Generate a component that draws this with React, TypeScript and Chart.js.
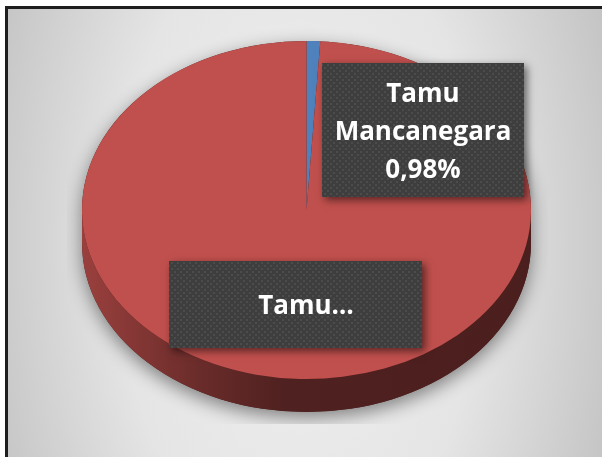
import React, { useEffect, useRef } from "react";
import { Chart, registerables } from "chart.js";

Chart.register(...registerables);

// ---- data ----
const categories = ["Tamu Mancanegara", "Tamu Nusantara"];
const percentages = [0.98, 99.02];
const sliceColors = ["#4f81bd", "#c0504d"];
const truncatedLabel = [false, true];

// ---- layout / style constants ----
const W = 594;
const H = 454;
const RADIUS = 224.5;
const TILT = 0.753;
const DEPTH = 33;
const FONT = "bold 26px 'Open Sans', 'Noto Sans', sans-serif";

const boxes = [
  { x: 314, y: 54, w: 202, h: 134, tx: 415, ty: [93, 131, 169] },
  { x: 161, y: 252, w: 253, h: 87, tx: 298, ty: [305] },
];

function formatPct(v: number) {
  return v.toFixed(2).replace(".", ",") + "%";
}

function labelLines(i: number): string[] {
  if (truncatedLabel[i]) return [categories[i].split(" ")[0] + "…"];
  return [...categories[i].split(" "), formatPct(percentages[i])];
}

function shade(hex: string, f: number) {
  const n = parseInt(hex.slice(1), 16);
  const r = Math.round(((n >> 16) & 255) * f);
  const g = Math.round(((n >> 8) & 255) * f);
  const b = Math.round((n & 255) * f);
  return `rgb(${r},${g},${b})`;
}

let dotPattern: CanvasPattern | null = null;
function getPattern(ctx: CanvasRenderingContext2D) {
  if (dotPattern) return dotPattern;
  const c = document.createElement("canvas");
  c.width = 6;
  c.height = 6;
  const p = c.getContext("2d")!;
  p.fillStyle = "#3e3e3e";
  p.fillRect(0, 0, 6, 6);
  p.fillStyle = "#4c4c4c";
  p.fillRect(1, 1, 2, 2);
  p.fillRect(4, 4, 2, 2);
  dotPattern = ctx.createPattern(c, "repeat");
  return dotPattern;
}

const pie3d = {
  id: "pie3d",
  beforeDraw(chart: any) {
    const ctx: CanvasRenderingContext2D = chart.ctx;
    ctx.save();
    ctx.translate(292, 235);
    ctx.scale(1, 1.8);
    const g = ctx.createRadialGradient(0, 0, 0, 0, 0, 330);
    g.addColorStop(0, "#f0f0f0");
    g.addColorStop(0.55, "#e5e5e5");
    g.addColorStop(1, "#c4c4c4");
    ctx.fillStyle = g;
    ctx.fillRect(-400, -300, 800, 600);
    ctx.restore();
  },
  beforeDatasetsDraw(chart: any) {
    const ctx: CanvasRenderingContext2D = chart.ctx;
    const arcs = chart.getDatasetMeta(0).data;
    if (!arcs.length) return;
    const cx = arcs[0].x;
    const cy = arcs[0].y;
    const r = arcs[0].outerRadius;
    const ry = r * TILT;

    // soft drop shadow
    ctx.save();
    ctx.beginPath();
    ctx.rect(59, 0, 481, 415);
    ctx.clip();
    ctx.shadowColor = "rgba(0,0,0,0.45)";
    ctx.shadowBlur = 18;
    ctx.shadowOffsetY = 6;
    ctx.beginPath();
    ctx.ellipse(cx, cy, r, ry, 0, Math.PI, 0);
    ctx.ellipse(cx, cy + DEPTH, r, ry, 0, 0, Math.PI);
    ctx.closePath();
    ctx.fillStyle = "#4c1d1d";
    ctx.fill();
    ctx.restore();

    // sides
    arcs.forEach((arc: any, i: number) => {
      const s = arc.startAngle;
      const e = arc.endAngle;
      for (const off of [-2 * Math.PI, 0, 2 * Math.PI]) {
        const lo = Math.max(s, off);
        const hi = Math.min(e, Math.PI + off);
        if (hi <= lo) continue;
        const a0 = lo - off;
        const a1 = hi - off;
        const col = sliceColors[i];
        const grad = ctx.createLinearGradient(cx - r, 0, cx + r, 0);
        grad.addColorStop(0, shade(col, 0.8));
        grad.addColorStop(0.26, shade(col, 0.55));
        grad.addColorStop(0.45, shade(col, 0.41));
        grad.addColorStop(1, shade(col, 0.39));
        ctx.save();
        ctx.beginPath();
        ctx.ellipse(cx, cy, r, ry, 0, a0, a1);
        ctx.ellipse(cx, cy + DEPTH, r, ry, 0, a1, a0, true);
        ctx.closePath();
        ctx.fillStyle = grad;
        ctx.fill();
        ctx.restore();
      }
    });

    // squash the top face
    ctx.save();
    ctx.translate(cx, cy);
    ctx.scale(1, TILT);
    ctx.translate(-cx, -cy);
  },
  afterDatasetsDraw(chart: any) {
    const ctx: CanvasRenderingContext2D = chart.ctx;
    ctx.restore();
    boxes.forEach((b, i) => {
      ctx.save();
      ctx.shadowColor = "rgba(0,0,0,0.55)";
      ctx.shadowBlur = 8;
      ctx.shadowOffsetX = 3;
      ctx.shadowOffsetY = 3;
      ctx.fillStyle = "#3e3e3e";
      ctx.fillRect(b.x, b.y, b.w, b.h);
      ctx.restore();
      ctx.save();
      ctx.fillStyle = getPattern(ctx) || "#3e3e3e";
      ctx.fillRect(b.x, b.y, b.w, b.h);
      ctx.fillStyle = "#ffffff";
      ctx.font = FONT;
      ctx.textAlign = "center";
      ctx.textBaseline = "alphabetic";
      labelLines(i).forEach((t, k) => ctx.fillText(t, b.tx, b.ty[k]));
      ctx.restore();
    });
  },
};

export default function App() {
  const ref = useRef<HTMLCanvasElement>(null);
  useEffect(() => {
    if (!ref.current) return;
    const chart = new Chart(ref.current, {
      type: "pie",
      data: {
        labels: categories,
        datasets: [
          {
            data: percentages,
            backgroundColor: sliceColors,
            borderWidth: 0,
            clip: false as any,
          },
        ],
      },
      options: {
        responsive: false,
        animation: false,
        radius: RADIUS,
        layout: { padding: { left: 3, right: 0, top: 0, bottom: 52 } },
        plugins: {
          legend: { display: false },
          tooltip: { enabled: false },
        },
        events: [],
      } as any,
      plugins: [pie3d],
    });
    return () => chart.destroy();
  }, []);

  return (
    <div
      style={{
        position: "fixed",
        left: 0,
        top: 0,
        width: 602,
        height: 457,
        overflow: "hidden",
        background: "#ffffff",
      }}
    >
      <div
        style={{
          position: "absolute",
          left: 5,
          top: 6,
          width: 600,
          height: 460,
          border: "3px solid #1e1e1e",
          boxSizing: "border-box",
        }}
      >
        <canvas ref={ref} width={W} height={H} style={{ display: "block", width: W, height: H }} />
      </div>
    </div>
  );
}
